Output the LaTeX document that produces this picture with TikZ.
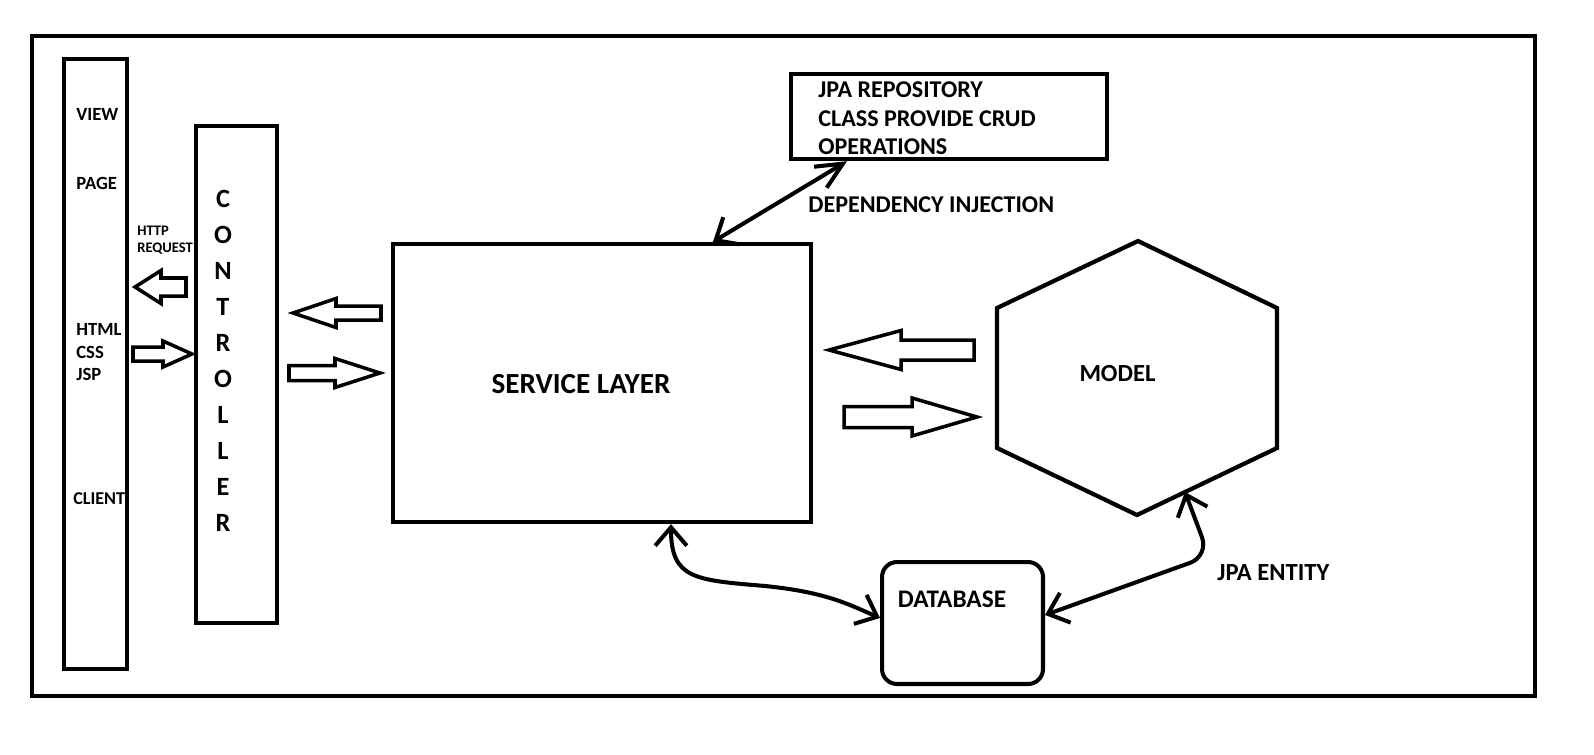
\documentclass[tikz,border=0pt]{standalone}
\usepackage{fontspec}
\setmainfont{Carlito}
\usetikzlibrary{arrows.meta}

\newcommand{\fatarrow}[6]{%
  \draw[fat] (#1,#4-#5) -- (#2,#4-#5) -- (#2,#4-#6) -- (#3,#4)
    -- (#2,#4+#6) -- (#2,#4+#5) -- (#1,#4+#5) -- cycle;}

\begin{document}
\begin{tikzpicture}[x=0.02cm, y=-0.02cm,
  box/.style={draw, line width=2.5pt, inner sep=0pt},
  txt/.style={inner sep=0pt, font=\bfseries\fontsize{14}{16.2}\selectfont},
  small/.style={inner sep=0pt, anchor=west, align=left, font=\bfseries\fontsize{10.6}{12.8}\selectfont},
  fat/.style={line width=2pt},
  dblarrow/.style={line width=2.3pt, >={Straight Barb[length=10.5pt,width=18pt]}, <->}]
  \useasboundingbox (0,0) rectangle (1594,754);
  \draw[line width=2.8pt] (32,36) rectangle (1535,696);

  \node[box, minimum width=1.26cm, minimum height=12.2cm] (view) at (95.5,364) {};
  \node[box, minimum width=1.62cm, minimum height=9.94cm] (ctrl) at (236.5,374.5) {};
  \node[box, minimum width=8.36cm, minimum height=5.56cm] (service) at (602,383) {};
  \node[box, minimum width=6.32cm, minimum height=1.7cm] (repo) at (949,116.5) {};
  \node[box, line width=2.3pt, rounded corners=0.3cm, minimum width=3.22cm, minimum height=2.44cm] (db) at (962.5,623) {};
  \draw[line width=2.4pt] (1138,241) -- (1277,308) -- (1277,448) -- (1137,515)
    -- (997,448) -- (997,308) -- cycle;
  \coordinate (model-db) at (1185,492);

  % texts
  \node[small] (view-lbl) at (76,114) {VIEW};
  \node[small] (page-lbl) at (76,183) {PAGE};
  \node[small] (web-lbl) at (76,352.5) {HTML\\CSS\\JSP};
  \node[small, font=\bfseries\fontsize{10.3}{12.8}\selectfont] (client-lbl) at (73,499) {CLIENT};
  \node[small, font=\bfseries\fontsize{8.3}{9.6}\selectfont] (http-lbl) at (137,240.5) {HTTP\\REQUEST};
  \node[inner sep=0pt, align=center, font=\bfseries\fontsize{15}{20.5}\selectfont] (ctrl-lbl) at (223,360.5)
    {C\\O\\N\\T\\R\\O\\L\\L\\E\\R};
  \node[txt, font=\bfseries\fontsize{16.6}{19}\selectfont] (service-lbl) at (581,384) {SERVICE LAYER};
  \node[txt, anchor=west, align=left, font=\bfseries\fontsize{13.7}{16.2}\selectfont] (repo-lbl) at (818,118.5)
    {JPA REPOSITORY\\CLASS PROVIDE CRUD\\OPERATIONS};
  \node[txt, anchor=west, font=\bfseries\fontsize{13.7}{16.2}\selectfont] (di-lbl) at (808,205) {DEPENDENCY INJECTION};
  \node[txt] (model-lbl) at (1117.5,374) {MODEL};
  \node[txt, font=\bfseries\fontsize{14.4}{16.2}\selectfont] (db-lbl) at (952,599) {DATABASE};
  \node[txt, anchor=west] (entity-lbl) at (1217,573) {JPA ENTITY};

  % block arrows
  \fatarrow{186}{161}{135}{287}{9}{16.5}
  \fatarrow{133}{163}{192}{354}{7}{13}
  \fatarrow{381}{336}{293}{313}{7}{14.5}
  \fatarrow{289}{335}{380}{373}{7.5}{14.5}
  \fatarrow{974}{901}{829}{350}{10}{19.5}
  \fatarrow{844}{912}{977}{417}{10.5}{19}

  % connectors
  \draw[dblarrow, {Straight Barb[length=15pt,width=14pt]}->] ([xshift=-2.04cm]repo.south) -- ([xshift=2.22cm]service.north);
  \draw[dblarrow] ([xshift=1.38cm]service.south) .. controls +(0,55) and +(-70,-6) .. (765,586)
    .. controls +(60,6) and +(-32,-14) .. ([yshift=0.1cm]db.west);
  \draw[dblarrow, rounded corners=0.4cm] (model-db) -- (1209,556) -- ([yshift=0.16cm]db.east);
\end{tikzpicture}
\end{document}
